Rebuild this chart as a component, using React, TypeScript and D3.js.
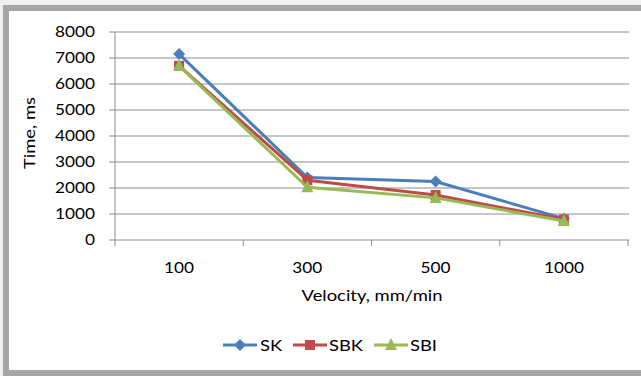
import React from "react";
import * as d3 from "d3";

const categories = ["100", "300", "500", "1000"];
const yTicks = [0, 1000, 2000, 3000, 4000, 5000, 6000, 7000, 8000];
const seriesNames = ["SK", "SBK", "SBI"];
const seriesColors = ["#4a7ebb", "#be4b48", "#98b954"];
const skValues = [7150, 2400, 2250, 820];
const sbkValues = [6700, 2300, 1730, 790];
const sbiValues = [6700, 2030, 1620, 730];
const allSeries = [skValues, sbkValues, sbiValues];

const W = 641;
const H = 376;
const FONT = "Lato, 'Open Sans', sans-serif";
const SX = 1.15;

function T({
  x,
  y,
  rot = 0,
  anchor = "start",
  size,
  dy,
  children,
}: {
  x: number;
  y: number;
  rot?: number;
  anchor?: string;
  size: number;
  dy?: string;
  children: React.ReactNode;
}) {
  return (
    <text
      transform={`translate(${x},${y}) rotate(${rot}) scale(${SX},1)`}
      textAnchor={anchor}
      fontSize={size}
      dy={dy}
      fill="#000"
    >
      {children}
    </text>
  );
}

function Marker({ kind, x, y, color }: { kind: number; x: number; y: number; color: string }) {
  if (kind === 0) {
    const r = 6;
    return <path d={`M${x},${y - r}L${x + r},${y}L${x},${y + r}L${x - r},${y}Z`} fill={color} />;
  }
  if (kind === 1) {
    const s = 10;
    return <rect x={x - s / 2} y={y - s / 2} width={s} height={s} fill={color} />;
  }
  const s = 12;
  return (
    <path
      d={`M${x},${y - s / 2 - 1}L${x + s / 2},${y + s / 2 - 1}L${x - s / 2},${y + s / 2 - 1}Z`}
      fill={color}
    />
  );
}

export default function App() {
  const x0 = 115;
  const x1 = 628;
  const x = d3.scaleBand<string>().domain(categories).range([x0, x1]);
  const y = d3.scaleLinear().domain([0, 8000]).range([240, 32]);
  const line = d3
    .line<number>()
    .x((_, i) => (x(categories[i]) as number) + x.bandwidth() / 2)
    .y((d) => y(d));

  const bounds = [...categories.map((c) => x(c) as number), x1];
  const legendX = [240, 310, 391];
  const legendTextX = [260, 329, 410];
  const legendY = 345;

  return (
    <svg
      width={W}
      height={H}
      style={{ position: "absolute", left: 0, top: 0, display: "block" }}
      fontFamily={FONT}
    >
      <rect x={0} y={0} width={W} height={H} fill="#f0f0f0" />
      <rect x={3} y={5} width={W} height={H} fill="#a6a6a6" />
      <rect x={9} y={11} width={W} height={359} fill="#ffffff" />

      {/* gridlines */}
      {yTicks.map((t) => (
        <line key={t} x1={x0} x2={x1 + 1} y1={y(t)} y2={y(t)} stroke="#8c8c8c" strokeWidth={1} />
      ))}
      {/* y axis */}
      <line x1={x0} x2={x0} y1={y(8000)} y2={y(0)} stroke="#8c8c8c" strokeWidth={1} />
      {yTicks.map((t) => (
        <line key={"yt" + t} x1={x0 - 6} x2={x0} y1={y(t)} y2={y(t)} stroke="#8c8c8c" strokeWidth={1} />
      ))}
      {yTicks.map((t) => (
        <T key={"yl" + t} x={95} y={y(t)} dy="0.36em" anchor="end" size={15}>
          {t}
        </T>
      ))}
      {/* x axis ticks */}
      {bounds.map((b, i) => (
        <line key={"xt" + i} x1={b} x2={b} y1={y(0)} y2={y(0) + 6} stroke="#8c8c8c" strokeWidth={1} />
      ))}
      {categories.map((c) => (
        <T key={"xl" + c} x={(x(c) as number) + x.bandwidth() / 2} y={273} anchor="middle" size={15}>
          {c}
        </T>
      ))}
      <T x={372} y={301} anchor="middle" size={16}>
        Velocity, mm/min
      </T>
      <T x={35} y={133} rot={-90} anchor="middle" size={16}>
        Time, ms
      </T>

      {/* series */}
      {allSeries.map((vals, si) => (
        <g key={"s" + si}>
          <path
            d={line(vals) as string}
            fill="none"
            stroke={seriesColors[si]}
            strokeWidth={3}
            strokeLinejoin="round"
          />
          {vals.map((v, i) => (
            <Marker
              key={i}
              kind={si}
              x={(x(categories[i]) as number) + x.bandwidth() / 2}
              y={y(v)}
              color={seriesColors[si]}
            />
          ))}
        </g>
      ))}

      {/* legend */}
      {seriesNames.map((n, i) => (
        <g key={"lg" + n}>
          <line
            x1={legendX[i] - 17}
            x2={legendX[i] + 17}
            y1={legendY}
            y2={legendY}
            stroke={seriesColors[i]}
            strokeWidth={3}
          />
          <Marker kind={i} x={legendX[i]} y={legendY} color={seriesColors[i]} />
          <T x={legendTextX[i]} y={legendY} dy="0.36em" size={16}>
            {n}
          </T>
        </g>
      ))}
    </svg>
  );
}
